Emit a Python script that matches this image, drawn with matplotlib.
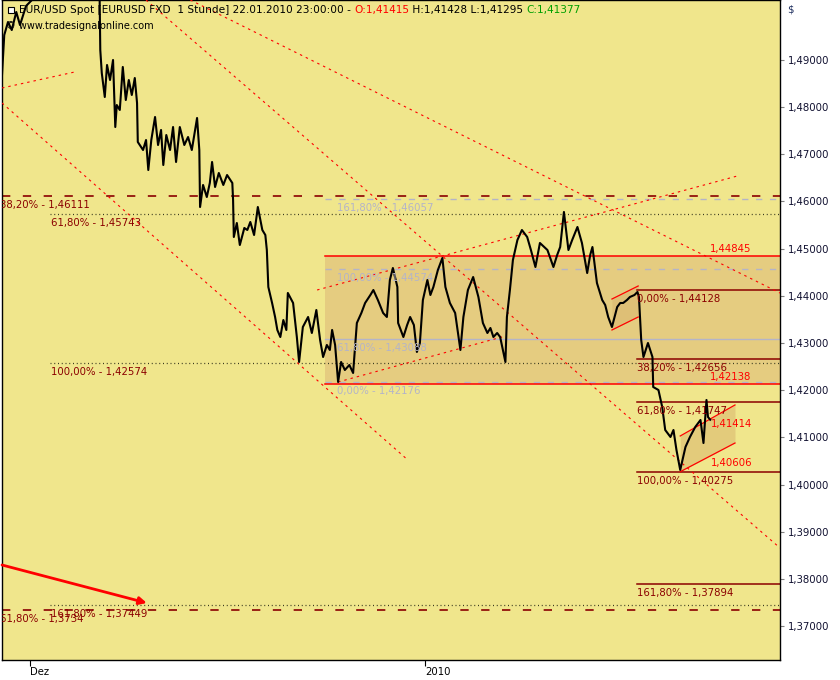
import matplotlib
matplotlib.use("Agg")
import matplotlib.pyplot as plt
from matplotlib.ticker import FuncFormatter

# EUR/USD 1h chart with fib levels and trend lines (tradesignal style)

# hours since chart start, close/price path
hours = [0, 3, 8, 13, 19, 24, 32, 40, 45, 128, 130, 131, 133, 137, 140, 144, 148, 151, 153, 157,
         161, 165, 169, 173, 177, 180, 181, 188, 192, 195, 199, 204, 208, 212, 215, 219, 224, 228,
         232, 237, 243, 248, 253, 260, 263, 264, 268, 273, 277, 280, 284, 289, 295, 300, 307, 308,
         309, 313, 317, 323, 327, 331, 336, 341, 347, 351, 353, 355, 360, 364, 367, 371, 375, 379,
         381, 388, 393, 396, 401, 408, 413, 419, 424, 428, 433, 437, 440, 444, 448, 452, 457, 463,
         468, 473, 479, 484, 491, 495, 501, 508, 513, 517, 521, 527, 528, 535, 540, 544, 549, 553,
         557, 561, 567, 571, 575, 581, 587, 591, 597, 604, 611, 615, 621, 628, 635, 641, 647, 651,
         655, 660, 664, 671, 673, 677, 681, 687, 693, 700, 705, 711, 717, 727, 735, 740, 744, 749,
         755, 760, 767, 773, 780, 784, 787, 788, 793, 800, 804, 808, 813, 820, 824, 828, 833, 837,
         843, 847, 849, 852, 855, 861, 867, 868, 875, 880, 884, 891, 895, 899, 904, 911, 917, 924,
         931, 935, 939, 941, 944]
price = [1.48680, 1.49527, 1.49803, 1.49633, 1.50015, 1.49739, 1.50142, 1.50270, 1.50480, 1.50480,
         1.50480, 1.49210, 1.48722, 1.48214, 1.48892, 1.48574, 1.48998, 1.47578, 1.48044, 1.47939,
         1.48850, 1.48150, 1.48574, 1.48256, 1.48616, 1.48087, 1.47261, 1.47091, 1.47303, 1.46667,
         1.47303, 1.47790, 1.47197, 1.47515, 1.46773, 1.47409, 1.47091, 1.47578, 1.46837, 1.47578,
         1.47197, 1.47366, 1.47091, 1.47769, 1.47091, 1.45883, 1.46350, 1.46095, 1.46392, 1.46837,
         1.46307, 1.46604, 1.46350, 1.46561, 1.46392, 1.46032, 1.45248, 1.45545, 1.45078, 1.45439,
         1.45396, 1.45566, 1.45290, 1.45883, 1.45396, 1.45290, 1.44972, 1.44189, 1.43850, 1.43553,
         1.43278, 1.43129, 1.43489, 1.43278, 1.44062, 1.43850, 1.43129, 1.42600, 1.43341, 1.43553,
         1.43214, 1.43701, 1.43066, 1.42705, 1.42960, 1.42854, 1.43278, 1.42960, 1.42176, 1.42600,
         1.42430, 1.42536, 1.42367, 1.43426, 1.43638, 1.43850, 1.44019, 1.44125, 1.43913, 1.43638,
         1.43553, 1.44337, 1.44591, 1.44189, 1.43426, 1.43129, 1.43383, 1.43553, 1.43383, 1.42812,
         1.43002, 1.43913, 1.44337, 1.44019, 1.44189, 1.44549, 1.44803, 1.44189, 1.43850, 1.43638,
         1.42854, 1.43553, 1.44125, 1.44400, 1.43977, 1.43426, 1.43214, 1.43320, 1.43129, 1.43214,
         1.43129, 1.42600, 1.43553, 1.44125, 1.44761, 1.45184, 1.45396, 1.45248, 1.44972, 1.44612,
         1.45121, 1.44972, 1.44612, 1.44867, 1.45036, 1.45778, 1.44972, 1.45184, 1.45460, 1.45121,
         1.44485, 1.44867, 1.45036, 1.44909, 1.44273, 1.43913, 1.43807, 1.43553, 1.43341, 1.43765,
         1.43850, 1.43850, 1.43913, 1.43977, 1.44019, 1.44083, 1.43977, 1.43066, 1.42705, 1.43002,
         1.42705, 1.42070, 1.42006, 1.41646, 1.41159, 1.41011, 1.41159, 1.40735, 1.40312, 1.40799,
         1.41011, 1.41222, 1.41371, 1.40883, 1.41795, 1.41434, 1.41377]

# fib set on the left (start hour, level, label)
left_fib_start = 64
left_dotted = [1.45743, 1.42574, 1.37449]
left_dotted_lab = ["61,80% - 1,45743", "100,00% - 1,42574", "161,80% - 1,37449"]
left_dashed = [1.46111, 1.37341]
left_dashed_lab = ["38,20% - 1,46111", "61,80% - 1,3734"]

# grey fib set over the box
grey_start = 431
grey_levels = [1.46057, 1.44574, 1.43088, 1.42176]
grey_lab = ["161,80% - 1,46057", "100,00% - 1,44574", "61,80% - 1,43088", "0,00% - 1,42176"]

# red box
box_start = 431
box_top, box_bot = 1.44845, 1.42138

# dark red fib set on the right
right_start = 847
right_levels = [1.44128, 1.42656, 1.41747, 1.40275, 1.37894]
right_lab = ["0,00% - 1,44128", "38,20% - 1,42656", "61,80% - 1,41747",
             "100,00% - 1,40275", "161,80% - 1,37894"]

# dashed trend lines: (h0, p0, h1, p1)
trend_lines = [
    (0, 1.48405, 97, 1.48744),
    (0, 1.48087, 541, 1.40523),
    (192, 1.50269, 1037, 1.38660),
    (251, 1.50269, 1037, 1.44061),
    (420, 1.44125, 980, 1.46540),
    (448, 1.42176, 671, 1.43150),
]
# small channels: (h0, h1, upper0, upper1, lower0, lower1)
channels = [
    (813, 848, 1.43934, 1.44210, 1.43278, 1.43553),
    (904, 977, 1.41032, 1.41689, 1.40275, 1.40883),
]
arrow_from = (0, 1.38299)
arrow_to = (193, 1.37494)

yticks = [1.37, 1.38, 1.39, 1.40, 1.41, 1.42, 1.43, 1.44, 1.45, 1.46, 1.47, 1.48, 1.49]
xticks = [37, 564]
xtick_labels = ["Dez", "2010"]

XMAX = 1037
FS = 7.3
DARKRED = "#8b0000"
GREY = "#b4b4c8"

fig = plt.figure(figsize=(8.4, 6.8), dpi=100)
ax = fig.add_axes([2 / 840, 20 / 680, 778 / 840, 660 / 680])
ax.set_facecolor("#f0e68c")
ax.set_xlim(0, XMAX)
ax.set_ylim(1.36286, 1.50269)


def lab(h, p, s, color, dy=-9, ha="left"):
    ax.annotate(s, xy=(h, p), xytext=(0, dy), textcoords="offset pixels",
                fontsize=FS, color=color, va="center", ha=ha, zorder=6,
                annotation_clip=False, clip_on=True)


# box and channel fills
ax.fill_between([box_start, XMAX], box_bot, box_top, color="#e5cc80", zorder=1, lw=0)
for h0, h1, u0, u1, l0, l1 in channels:
    ax.fill_between([h0, h1], [l0, l1], [u0, u1], color="#d9b56e", alpha=0.55, zorder=1, lw=0)
    ax.plot([h0, h1], [u0, u1], color="red", lw=0.9, zorder=3)
    ax.plot([h0, h1], [l0, l1], color="red", lw=0.9, zorder=3)

# left fib
for lv, s in zip(left_dashed, left_dashed_lab):
    ax.plot([0, XMAX], [lv, lv], color=DARKRED, lw=1.2, dashes=(5, 7.5), zorder=2)
    lab(-3, lv, s, DARKRED)
for lv, s in zip(left_dotted, left_dotted_lab):
    ax.plot([left_fib_start, XMAX], [lv, lv], color="#3a3a20", lw=0.9, dashes=(0.8, 2.2), zorder=2)
    lab(left_fib_start + 1, lv, s, DARKRED)

# grey fib
for i, (lv, s) in enumerate(zip(grey_levels, grey_lab)):
    if i == 2:
        ax.plot([grey_start, XMAX], [lv, lv], color=GREY, lw=1.0, zorder=2)
    else:
        ax.plot([grey_start, XMAX], [lv, lv], color=GREY, lw=1.0, dashes=(4.5, 5.5), zorder=2)
    lab(grey_start + 16, lv, s, GREY)

# red box lines
for lv in (box_top, box_bot):
    ax.plot([box_start, XMAX], [lv, lv], color="red", lw=1.1, zorder=2)
    lab(944, lv, f"{lv:.5f}".replace(".", ","), "red", dy=7)

# right fib
for lv, s in zip(right_levels, right_lab):
    ax.plot([right_start, XMAX], [lv, lv], color=DARKRED, lw=1.1, zorder=2)
    lab(right_start, lv, s, DARKRED)

# channel end values
lab(945, 1.41414, "1,41414", "red", dy=-6)
lab(945, 1.40606, "1,40606", "red", dy=-7)

# trend lines
for h0, p0, h1, p1 in trend_lines:
    ax.plot([h0, h1], [p0, p1], color="red", lw=0.8, dashes=(2.2, 3.6), zorder=3)

ax.annotate("", xy=arrow_to, xytext=arrow_from,
            arrowprops=dict(arrowstyle="-|>", color="red", lw=2, mutation_scale=11,
                            shrinkA=0, shrinkB=0), zorder=4)

# price
ax.plot(hours, price, color="black", lw=1.5, zorder=4)

# header
HFS = 7.6
t = ax.text(17 / 778, 1 - 10 / 660, "EUR/USD Spot [EURUSD FXD  1 Stunde] 22.01.2010 23:00:00 - ",
            transform=ax.transAxes, fontsize=HFS, va="center", ha="left", zorder=7)
for s, c in [("O:1,41415", "red"), (" H:1,41428 L:1,41295 ", "black"), ("C:1,41377", "#00a000")]:
    t = ax.annotate(s, xy=(1, 0), xycoords=t, va="bottom", ha="left", fontsize=HFS, color=c, zorder=7)
ax.text(4 / 778, 1 - 26 / 660, "\u00a9 www.tradesignalonline.com", transform=ax.transAxes,
        fontsize=7.0, va="center", ha="left", zorder=7)
ax.plot([9 / 778], [1 - 10 / 660], marker="s", ms=4.5, mfc="white", mec="black", mew=0.8,
        transform=ax.transAxes, clip_on=False, zorder=7)

# axes
ax.yaxis.tick_right()
ax.set_yticks(yticks)
ax.yaxis.set_major_formatter(FuncFormatter(lambda v, pos: f"{v:.5f}".replace(".", ",")))
ax.tick_params(axis="y", length=3, width=0.8, color="#808080", pad=3, labelsize=FS, labelcolor="#101030")
ax.set_xticks(xticks)
ax.set_xticklabels(xtick_labels, ha="left")
ax.tick_params(axis="x", length=4, width=0.8, color="black", pad=1, labelsize=FS)
for sp in ax.spines.values():
    sp.set_color("black")
    sp.set_linewidth(1)
fig.text(787 / 840, 1 - 10 / 680, "$", fontsize=FS, color="#203060", va="center")

fig.savefig("out.png", dpi=100, facecolor="white")
